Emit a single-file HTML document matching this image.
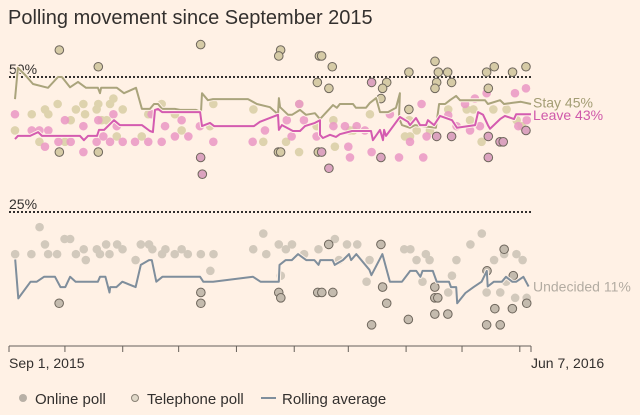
<!DOCTYPE html>
<html><head><meta charset="utf-8">
<style>
html,body{margin:0;padding:0;background:#fff1e5;}
body{width:640px;height:415px;overflow:hidden;font-family:"Liberation Sans",sans-serif;}
svg{display:block}
</style></head>
<body>
<svg id="chart" width="640" height="415" xmlns="http://www.w3.org/2000/svg">
<rect width="640" height="415" fill="#fff1e5"/>
<text x="8" y="24" font-size="20" fill="#33302e">Polling movement since September 2015</text>
<g id="grid"></g>
<g id="dots"></g>
<g id="lines"></g>
<g id="axis"></g>
<g id="legend">
 <circle cx="23" cy="398" r="4" fill="#b8b0a6"/>
 <text x="35" y="404" font-size="15" fill="#33302e">Online poll</text>
 <circle cx="135" cy="398" r="3.5" fill="#e0d8c8" stroke="#8a8276" stroke-width="1"/>
 <text x="147" y="404" font-size="15" fill="#33302e">Telephone poll</text>
 <line x1="261" y1="398" x2="276" y2="398" stroke="#7f8e9c" stroke-width="2"/>
 <text x="282" y="404" font-size="15" fill="#33302e">Rolling average</text>
</g>
</svg>
<script>
// ---- data (day since Sep 1 2015, percent) ----
const tickDays=[0,30,61,91,122,153,182,213,243,274,280];
const gridValues=[50,25];
const gridLabels=["50%","25%"];

const stayAvgDays=[3.2,4.8,8.6,12.9,20.9,26.3,28.4,32.7,37.0,41.3,47.7,48.8,49.4,57.9,61.7,68.1,71.3,75.6,77.8,79.9,82.1,89.0,91.7,100.3,103.0,103.5,106.7,109.4,128.2,133.0,140.0,144.3,144.8,145.4,149.7,151.8,156.1,159.3,164.1,166.8,173.8,175.9,177.5,184.5,186.1,191.5,193.6,196.9,199.0,203.3,207.6,209.7,209.2,210.8,215.1,217.8,229.0,230.7,233.9,236.5,239.8,241.9,255.3,256.9,263.4,265.5,269.8,274.6,280];
const stayAvgValues=[45.9,51.7,50.4,48.7,48.0,50.0,50.0,48.1,49.1,48.0,48.0,47.0,48.0,48.0,47.0,48.0,44.1,44.1,45.0,45.0,44.1,44.1,43.9,43.9,43.5,47.0,45.7,45.9,45.9,45.0,44.4,43.1,46.1,44.4,43.0,43.0,43.9,43.0,43.3,42.2,44.8,44.3,45.0,45.0,44.3,44.3,45.2,46.1,43.5,43.5,44.3,47.0,42.4,41.1,40.6,41.1,40.6,45.0,45.0,45.7,46.5,45.7,45.7,45.0,45.7,45.0,45.2,45.4,45.0];

const leaveAvgDays=[3.2,4.8,11.3,15.6,17.7,38.1,40.2,42.4,47.2,48.3,51.0,56.3,59.5,71.3,75.6,77.2,78.3,79.9,82.1,102.5,103.5,107.8,110.0,131.4,134.6,144.3,144.8,146.4,152.3,156.1,158.8,164.1,166.8,166.8,168.4,172.2,175.4,177.5,184.0,194.2,195.2,199.0,200.6,201.2,202.2,209.7,214.0,215.1,218.3,220.5,223.7,224.7,228.0,231.2,237.6,240.3,250.0,251.6,254.3,256.9,258.0,263.4,266.0,270.9,272.0,280];
const leaveAvgValues=[38.5,39.1,39.1,39.8,39.1,39.1,38.3,39.1,39.1,40.2,40.2,42.0,41.1,41.1,40.0,39.8,43.9,44.1,43.5,43.5,40.9,41.5,40.9,40.9,41.7,43.0,40.2,41.1,40.0,40.0,40.9,41.5,42.0,39.3,38.7,39.3,38.9,39.4,40.0,40.0,38.3,40.2,38.3,40.2,39.1,42.6,41.7,41.1,42.4,41.1,41.1,42.0,41.1,42.8,42.0,40.6,41.1,43.5,43.0,41.1,40.4,42.2,42.8,42.2,43.1,43.1];

const undAvgDays=[3.3,5.0,11.6,14.9,18.8,24.7,27.6,30.2,32.8,35.7,47.7,48.8,51.7,53.9,54.3,57.6,60.8,67.9,70.7,75.1,76.6,79.0,82.3,102.5,104.2,109.5,130.9,134.9,144.7,145.1,148.4,151.7,155.0,159.4,163.8,166.0,167.0,173.6,174.7,179.1,182.4,183.5,186.3,193.3,194.4,200.3,204.3,210.8,215.2,218.5,220.7,221.8,227.3,229.4,236.0,237.1,239.9,240.4,244.8,249.2,253.5,256.3,256.8,260.1,264.4,266.6,269.9,272.1,275.9,278.7];
const undAvgValues=[16.2,9.0,12.1,12.1,13.0,13.0,11.1,11.1,13.0,12.1,12.1,13.0,13.0,10.1,11.1,11.1,12.1,11.1,15.2,16.1,16.1,12.1,13.0,13.0,12.1,12.1,13.0,12.1,12.1,15.2,16.1,16.1,17.2,16.1,16.1,15.2,16.1,16.1,15.2,16.1,17.2,16.1,17.2,14.3,13.3,17.2,12.1,12.1,14.1,14.1,13.0,14.1,14.1,12.1,12.1,11.1,11.1,8.1,10.0,11.1,12.1,14.1,11.2,12.1,12.1,13.0,12.1,12.1,13.0,11.2];

const stayOnlineDays=[3.2,12.2,16.3,19.3,21.1,26.1,30.0,33.1,35.9,39.9,40.8,47.0,47.9,49.7,52.4,54.2,56.0,57.8,61.0,71.2,74.7,81.9,89.0,92.6,109.6,107.8,131.1,136.4,148.6,155.6,155.7,165.0,174.0,174.8,182.9,184.7,193.6,212.4,215.1,218.7,225.8,235.6,245.5,247.3,249.1,253.5,259.8,266.9,272.3,275.0,214.7];
const stayOnlineValues=[40.1,43.1,38.0,44.0,43.1,45.0,38.0,42.0,44.0,45.0,43.1,44.0,45.0,42.0,42.0,45.0,46.0,39.0,44.0,39.0,43.1,45.0,43.1,40.1,45.0,40.9,44.0,38.0,38.0,36.1,45.0,40.9,42.0,37.1,40.1,40.1,43.1,39.0,39.0,40.1,40.1,44.0,44.0,42.0,44.0,38.0,44.0,44.0,42.0,40.9,42.0];

const leaveOnlineDays=[3.2,12.2,16.3,19.3,21.1,26.5,30.0,33.1,39.9,39.9,47.0,47.9,50.6,54.2,56.0,57.8,61.0,67.6,74.7,76.5,81.9,83.7,89.0,92.6,96.2,102.4,109.6,130.7,137.3,149.0,151.6,155.7,158.2,165.0,174.0,180.2,182.0,182.9,186.5,190.9,194.5,204.3,209.2,215.1,221.3,222.2,224.0,235.6,240.1,244.6,247.3,249.9,252.6,256.2,271.4,277.3,277.7,273.2];
const leaveOnlineValues=[43.1,40.1,40.1,37.1,40.1,38.0,42.0,38.0,40.9,36.1,38.0,42.0,39.0,38.0,43.1,40.9,38.0,38.0,38.0,43.1,38.0,40.9,39.0,42.0,39.0,40.9,38.0,38.0,40.1,42.0,39.0,45.0,42.0,39.0,40.9,40.9,37.1,35.1,40.9,40.1,36.1,43.1,35.1,38.0,45.0,35.1,39.0,42.9,40.9,45.0,40.1,46.0,40.9,47.0,47.0,47.9,42.0,40.9];

const undOnlineDays=[3.3,12.0,16.4,19.3,21.0,25.8,29.8,32.8,35.9,40.1,41.2,47.1,48.8,52.1,53.9,58.0,60.9,67.9,70.7,75.1,76.9,82.1,83.9,88.9,92.6,95.9,102.9,108.0,109.7,131.0,136.4,138.0,144.7,145.8,148.5,151.8,158.3,166.0,174.8,177.0,181.3,186.8,191.8,193.4,212.0,215.3,218.6,221.8,223.6,225.6,235.6,237.6,240.0,247.5,253.6,256.2,260.2,263.5,265.6,266.7,271.5,272.2,275.5,277.7];
const undOnlineValues=[17.2,17.2,22.2,19.0,17.2,17.2,20.0,20.0,17.2,18.1,16.1,18.1,17.2,19.0,17.2,19.0,18.1,16.1,19.0,19.0,18.1,17.2,18.1,17.2,18.1,17.2,17.2,14.1,17.2,18.1,21.0,17.2,19.0,13.2,18.1,19.0,17.2,18.1,20.0,16.1,19.0,19.0,12.1,16.1,18.1,18.1,16.1,12.1,17.2,16.1,10.1,13.2,16.1,19.0,21.0,10.1,16.1,10.1,17.2,12.1,9.1,17.2,16.1,9.1];

const stayPhoneDays=[27.0,47.9,27.0,47.9,102.8,145.7,144.7,144.5,145.7,166.5,165.4,165.9,167.7,173.4,171.6,214.5,230.3,235.3,228.5,229.4,228.5,237.4,256.2,260.3,270.1,277.3,257.1,202.6,200.4,199.5,214.5];
const stayPhoneValues=[55.0,51.9,36.1,36.1,56.0,55.0,53.9,36.1,36.1,53.9,49.0,36.1,53.9,51.9,47.9,50.9,50.9,50.9,52.9,49.0,47.9,49.0,50.9,51.9,50.9,51.9,47.9,49.0,47.9,46.0,44.0];

const leavePhoneDays=[102.8,103.7,194.5,171.6,199.5,257.1,229.4,237.4,257.1,263.4,265.1,277.3,167.7];
const leavePhoneValues=[35.1,32.0,49.0,33.1,35.1,35.1,39.0,39.0,39.0,38.0,38.0,40.1,36.1];

const undPhoneDays=[26.9,102.9,102.9,144.7,145.8,165.6,167.8,173.7,171.5,194.5,199.5,200.4,202.6,214.2,228.4,228.4,230.0,228.4,235.4,256.2,256.4,260.6,263.5,265.6,270.0,270.5,277.7];
const undPhoneValues=[8.1,10.1,8.1,10.1,9.1,10.1,10.1,10.1,19.0,4.1,19.0,11.1,8.1,5.1,11.1,9.1,9.1,6.1,6.1,4.1,14.1,7.1,4.1,18.1,7.1,13.2,8.1];

// ---- scales ----
const X0=9,X1=531,DMAX=280;
function xs(d){return X0+d*(X1-X0)/DMAX;}
function ys(v){return 77+(50-v)*5.4;}
const NS="http://www.w3.org/2000/svg";
function mk(tag,attrs,parent){const e=document.createElementNS(NS,tag);for(const k in attrs)e.setAttribute(k,attrs[k]);parent.appendChild(e);return e;}

const grid=document.getElementById('grid');
gridValues.forEach((v,i)=>{
  const l=mk('line',{x1:X0,x2:X1,y1:ys(v),y2:ys(v),stroke:'#33302e','stroke-width':2,'stroke-dasharray':'2,2'},grid);
  
  
  const t=mk('text',{x:9,y:ys(v)-3,'font-size':14,fill:'#33302e'},grid);
  t.textContent=gridLabels[i];
  
  
});

const dots=document.getElementById('dots');
function drawDots(days,vals,fill,stroke,name){
  days.forEach((d,i)=>{
    const a={cx:xs(d),cy:ys(vals[i]),r:4.3,fill:fill};
    if(stroke){a.stroke=stroke;a['stroke-width']=1;}
    const c=mk('circle',a,dots);
    
    
  });
}
drawDots(undOnlineDays,undOnlineValues,'#d2c9bc',null,'undecided-online-dot');
drawDots(stayOnlineDays,stayOnlineValues,'#ded3ae',null,'stay-online-dot');
drawDots(leaveOnlineDays,leaveOnlineValues,'rgba(234,150,196,0.85)',null,'leave-online-dot');
drawDots(undPhoneDays,undPhoneValues,'#c4bbae','#6e665c','undecided-phone-dot');
drawDots(stayPhoneDays,stayPhoneValues,'#d6cba6','#6e665c','stay-phone-dot');
drawDots(leavePhoneDays,leavePhoneValues,'#dba3bf','#6e665c','leave-phone-dot');

const lines=document.getElementById('lines');
function drawLine(days,vals,color,name){
  const pts=days.map((d,i)=>xs(d).toFixed(1)+','+ys(vals[i]).toFixed(1)).join(' ');
  const h=mk('polyline',{points:pts,fill:'none',stroke:'#fff1e5','stroke-width':4,'stroke-linejoin':'round'},lines);
  
  
  const p=mk('polyline',{points:pts,fill:'none',stroke:color,'stroke-width':2,'stroke-linejoin':'round'},lines);
  
  
}
drawLine(undAvgDays,undAvgValues,'#7f8e9c','undecided-average-line');
drawLine(stayAvgDays,stayAvgValues,'#aaa47c','stay-average-line');
drawLine(leaveAvgDays,leaveAvgValues,'#d45bb0','leave-average-line');

function endLabel(txt,v,color,name){
  const t=mk('text',{x:533,y:ys(v)+5,'font-size':14,fill:color},lines);
  t.textContent=txt;
  
  
}
endLabel('Stay 45%',45.3,'#a39d74','stay-label');
endLabel('Leave 43%',43,'#cf58aa','leave-label');
endLabel('Undecided 11%',11.2,'#b3aca2','undecided-label');

const axis=document.getElementById('axis');
const al=mk('line',{x1:X0,x2:X1,y1:346,y2:346,stroke:'#66605a','stroke-width':1},axis);


tickDays.forEach(d=>{
  const t=mk('line',{x1:xs(d),x2:xs(d),y1:346,y2:352,stroke:'#66605a','stroke-width':1},axis);
  
  
});
const l1=mk('text',{x:9,y:368,'font-size':14,fill:'#33302e'},axis);
l1.textContent='Sep 1, 2015';


const l2=mk('text',{x:531,y:368,'font-size':14,fill:'#33302e'},axis);
l2.textContent='Jun 7, 2016';


</script>
</body></html>
